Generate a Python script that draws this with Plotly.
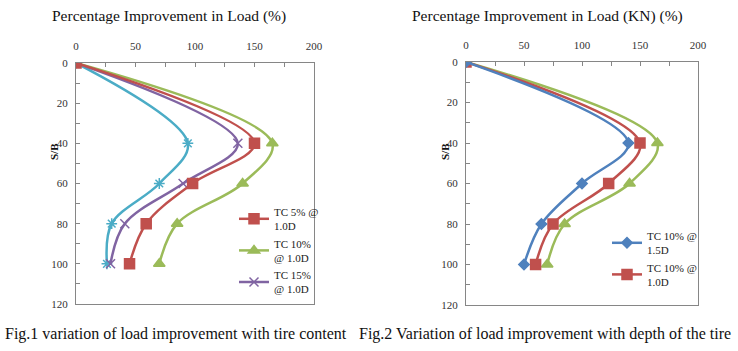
import plotly.graph_objects as go

# ---- data ----
sb = [0, 40, 60, 80, 100]

# Fig.1
tc5_10d = [0, 150, 98, 59, 45]
tc10_10d = [0, 165, 140, 85, 70]
tc15_10d = [0, 136, 90, 41, 29]
tc20_10d = [0, 94, 70, 30, 26]

# Fig.2
tc10_15d = [0, 140, 100, 65, 50]
tc10_10d_b = [0, 150, 123, 75, 60]
tc10_05d = [0, 165, 141, 85, 70]

x_ticks = [0, 50, 100, 150, 200]
y_ticks = [0, 20, 40, 60, 80, 100, 120]

RED = "#C0504D"
GREEN = "#9BBB59"
PURPLE = "#8064A2"
CYAN = "#4BACC6"
BLUE = "#4F81BD"
FONT = "Liberation Serif, Times New Roman, serif"

fig = go.Figure()

def add(x, y, color, symbol, size, name, xa, ya, legend, show=True):
    fig.add_trace(go.Scatter(
        x=x, y=y, mode="lines+markers", name=name,
        line=dict(color=color, width=2.5, shape="spline", smoothing=1.0),
        marker=dict(symbol=symbol, size=size, color=color,
                    line=dict(color=color, width=1.5)),
        xaxis=xa, yaxis=ya, legend=legend, showlegend=show))

add(tc20_10d, sb, CYAN, "asterisk-open", 9, "TC 20% @<br>1.0D", "x", "y", "legend", False)
add(tc15_10d, sb, PURPLE, "x-thin-open", 9, "TC 15%<br>@ 1.0D", "x", "y", "legend")
add(tc10_10d, sb, GREEN, "triangle-up", 10, "TC 10%<br>@ 1.0D", "x", "y", "legend")
add(tc5_10d, sb, RED, "square", 10, "TC 5% @<br>1.0D", "x", "y", "legend")

add(tc10_05d, sb, GREEN, "triangle-up", 10, "TC 10% @<br>0.5D", "x2", "y2", "legend2", False)
add(tc10_10d_b, sb, RED, "square", 10, "TC 10% @<br>1.0D", "x2", "y2", "legend2")
add(tc10_15d, sb, BLUE, "diamond", 8, "TC 10% @<br>1.5D", "x2", "y2", "legend2")

W, H = 738, 351
def px(v): return v / W
def py(v): return 1 - v / H

xcommon = dict(range=[0, 200], tickvals=x_ticks, side="top", showgrid=False,
               zeroline=False, showline=True, linecolor="#868686", linewidth=1,
               mirror=True, ticks="inside", ticklen=4, tickcolor="#868686",
               automargin=False, ticklabelstandoff=8,
               minor=dict(dtick=25, ticks="inside", ticklen=4, tickcolor="#868686"),
               tickfont=dict(family=FONT, size=11, color="#333333"))
ycommon = dict(range=[120, 0], tickvals=y_ticks, showgrid=False, zeroline=False,
               showline=True, linecolor="#868686", linewidth=1, mirror=True,
               ticks="inside", ticklen=4, tickcolor="#868686",
               automargin=False, ticklabelstandoff=5,
               minor=dict(dtick=10, ticks="inside", ticklen=4, tickcolor="#868686"),
               tickfont=dict(family=FONT, size=11, color="#333333"))

legcommon = dict(xanchor="left", yanchor="top", bgcolor="rgba(0,0,0,0)",
                 traceorder="reversed",
                 font=dict(family=FONT, size=11, color="#222222"),
                 tracegroupgap=0, itemwidth=30)

fig.update_layout(
    width=W, height=H, margin=dict(l=0, r=0, t=0, b=0, autoexpand=False),
    paper_bgcolor="white", plot_bgcolor="white",
    xaxis=dict(domain=[px(76), px(314)], anchor="y", **xcommon),
    yaxis=dict(domain=[py(304), py(63)], anchor="x", **ycommon),
    xaxis2=dict(domain=[px(466), px(698)], anchor="y2", **xcommon),
    yaxis2=dict(domain=[py(305), py(62)], anchor="x2", **ycommon),
    legend=dict(x=px(234), y=py(198), **legcommon),
    legend2=dict(x=px(607), y=py(222), **legcommon),
    font=dict(family=FONT),
)

ann = [
    dict(text="Percentage Improvement in Load (%)", x=px(169), y=py(16), size=15.5),
    dict(text="Percentage Improvement in Load (KN) (%)", x=px(547), y=py(16), size=15.5),
    dict(text="Fig.1 variation of load improvement with tire content", x=px(176), y=py(334), size=16),
    dict(text="Fig.2 Variation of load improvement with depth of the tire", x=px(545), y=py(334), size=16),
]
for a in ann:
    fig.add_annotation(text=a["text"], x=a["x"], y=a["y"], xref="paper", yref="paper",
                       showarrow=False, xanchor="center", yanchor="middle",
                       font=dict(family=FONT, size=a["size"], color="#111111"))
for xx in (54, 445):
    fig.add_annotation(text="<b>S/B</b>", x=px(xx), y=py(152), xref="paper", yref="paper",
                       showarrow=False, textangle=-90, xanchor="center", yanchor="middle",
                       font=dict(family=FONT, size=11, color="#111111"))

fig.write_html("out.html")
